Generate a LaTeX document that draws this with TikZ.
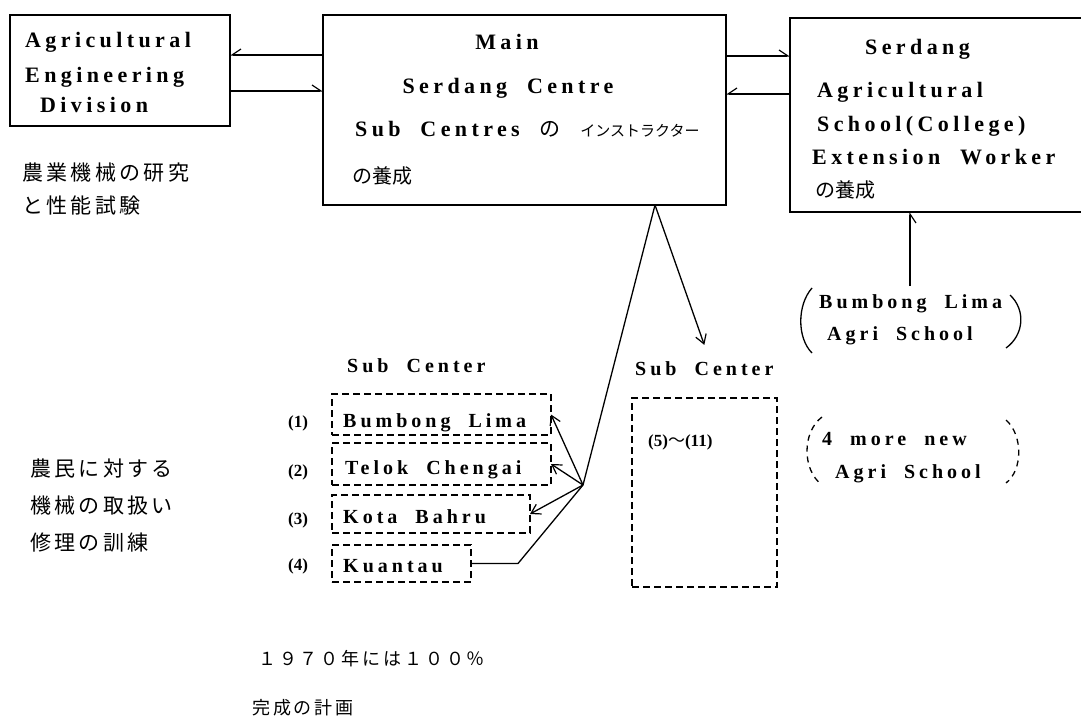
\documentclass[tikz,border=0pt]{standalone}
\usepackage{fontspec}
\usetikzlibrary{arrows.meta,calc}
\newfontfamily\lat{Liberation Serif}[LetterSpace=20,WordSpace=2]
\newfontfamily\latn{Liberation Serif}
\newfontfamily\jp{Noto Sans CJK JP}[LetterSpace=16]
\newfontfamily\jpn{Noto Sans CJK JP}
\begin{document}
\begin{tikzpicture}[x=1pt,y=-1pt,
  box/.style={draw, line width=1.3pt, inner sep=0pt, outer sep=0pt},
  dbox/.style={draw, line width=1.3pt, dash pattern=on 7pt off 4pt, inner sep=0pt, outer sep=0pt},
  big/.style={inner sep=0pt, anchor=base west, font=\fontsize{22}{26}\lat\bfseries},
  small/.style={inner sep=0pt, anchor=base west, font=\fontsize{20}{24}\lat\bfseries},
  num/.style={inner sep=0pt, anchor=base west, font=\fontsize{17}{20}\latn\bfseries},
  jtxt/.style={inner sep=0pt, anchor=west, font=\fontsize{21}{25}\jp},
  line/.style={line width=1.3pt},
  harpE/.style={line, -{Straight Barb[harpoon, length=9pt, width=12pt, line width=1.2pt]}},
  harpW/.style={line, -{Straight Barb[harpoon, swap, length=9pt, width=12pt, line width=1.2pt]}},
  arr/.style={line, -{Straight Barb[length=9pt, width=11pt, line width=1.2pt]}}
]
\clip (0,0) rectangle (1081,722);
\fill[white] (0,0) rectangle (1081,722);

% main boxes
\node[box, minimum width=220pt, minimum height=111pt] (aed) at (120,70.5) {};
\node[box, minimum width=403pt, minimum height=190pt] (main) at (524.5,110) {};
\node[box, minimum width=300pt, minimum height=194pt] (serd) at (940,115) {};

% texts of box 1
\node[big] (a1) at (25,48) {Agricultural};
\node[big] (a2) at (25,83) {Engineering};
\node[big] (a3) at (40,113) {Division};

% texts of main box
\node[big, anchor=base] (m1) at (507,50) {Main};
\node[big, anchor=base] (m2) at (508,94) {Serdang Centre};
\node[big] (m3) at (355,137) {Sub Centres {\mdseries\fontsize{21}{25}\jpn の} {\mdseries\fontsize{15}{18}\jpn インストラクター}};
\node[big] (m4) at (352,184) {{\mdseries\fontsize{20}{24}\jpn の養成}};

% texts of Serdang box
\node[big] (s1) at (865,55) {Serdang};
\node[big] (s2) at (817,98) {Agricultural};
\node[big] (s3) at (817,132) {School(College)};
\node[big] (s4) at (812,165) {Extension Worker};
\node[big] (s5) at (815,198) {{\mdseries\fontsize{20}{24}\jpn の養成}};

% box connectors
\draw[harpW] ($(main.north west)+(0,40)$) -- ($(aed.north east)+(0,40)$);
\draw[harpE] ($(aed.north east)+(0,76)$) -- ($(main.north west)+(0,76)$);
\draw[harpE] ($(main.north east)+(0,41)$) -- ($(serd.north west)+(0,38)$);
\draw[harpW] ($(serd.north west)+(0,76)$) -- ($(main.north east)+(0,79)$);

% left notes
\node[jtxt] (j1) at (22,173) {農業機械の研究};
\node[jtxt] (j2) at (22,206) {と性能試験};
\node[jtxt] (j3) at (30,469) {農民に対する};
\node[jtxt] (j4) at (30,506) {機械の取扱い};
\node[jtxt] (j5) at (30,543) {修理の訓練};

% Bumbong Lima Agri School
\node[small] (b1) at (819,308) {Bumbong Lima};
\node[small] (b2) at (827,340) {Agri School};
\draw[line] (812,288) .. controls (797,305) and (797,338) .. (812,353);
\draw[line] (1010,295) .. controls (1026,310) and (1024,335) .. (1006,348);
\coordinate (bstart) at (910,286);
\draw[line, -{Straight Barb[harpoon, swap, length=9pt, width=12pt, line width=1.2pt]}] (bstart) -- (bstart |- serd.south);

% Sub centers (left)
\node[small] (sc1) at (347,372) {Sub Center};
\node[dbox, minimum width=219pt, minimum height=41pt] (bl) at (441.5,414.5) {};
\node[dbox, minimum width=219pt, minimum height=42pt] (tc) at (441.5,464) {};
\node[dbox, minimum width=198pt, minimum height=38pt] (kb) at (431,514) {};
\node[dbox, minimum width=139pt, minimum height=37pt] (kua) at (401.5,563.5) {};
\node[small] (t1) at (343,427) {Bumbong Lima};
\node[small] (t2) at (345,474) {Telok Chengai};
\node[small] (t3) at (343,523) {Kota Bahru};
\node[small] (t4) at (343,572) {Kuantau};
\node[num] (n1) at (288,427) {(1)};
\node[num] (n2) at (288,476) {(2)};
\node[num] (n3) at (288,524) {(3)};
\node[num] (n4) at (288,570) {(4)};

% Sub center (right)
\node[small] (sc2) at (635,375) {Sub Center};
\node[dbox, minimum width=145pt, minimum height=189pt] (sc2box) at (704.5,492.5) {};
\node[num] (n5) at (648,446) {(5){\mdseries\fontsize{17}{20}\jpn ～}(11)};

% 4 more new Agri School
\node[small] (f1) at (822,445) {4 more new};
\node[small] (f2) at (835,478) {Agri School};
\draw[line, dash pattern=on 6pt off 5pt] (822,417) .. controls (802,432) and (802,470) .. (822,485);
\draw[line, dash pattern=on 6pt off 5pt] (1006,420) .. controls (1023,435) and (1023,470) .. (1006,483);

% connectors from main box
\coordinate (apex) at ([xshift=130.5pt]main.south);
\coordinate (junc) at (583,485);
\coordinate (k1) at (518,562);
\draw[line] (apex) -- (junc);
\draw[arr] (apex) -- ($(sc2.north)+(0,-16)$);
\draw[arr] (junc) -- (bl.east);
\draw[arr] (junc) -- (tc.east);
\draw[arr] (junc) -- (kb.east);
\draw[line] (junc) -- (k1 |- kua.east) -- (kua.east);

% bottom notes
\node[inner sep=0pt, anchor=west, font=\fontsize{18}{22}\jp] (p1) at (258,659) {１９７０年には１００％};
\node[inner sep=0pt, anchor=west, font=\fontsize{18}{22}\jp] (p2) at (252,708) {完成の計画};
\end{tikzpicture}
\end{document}
